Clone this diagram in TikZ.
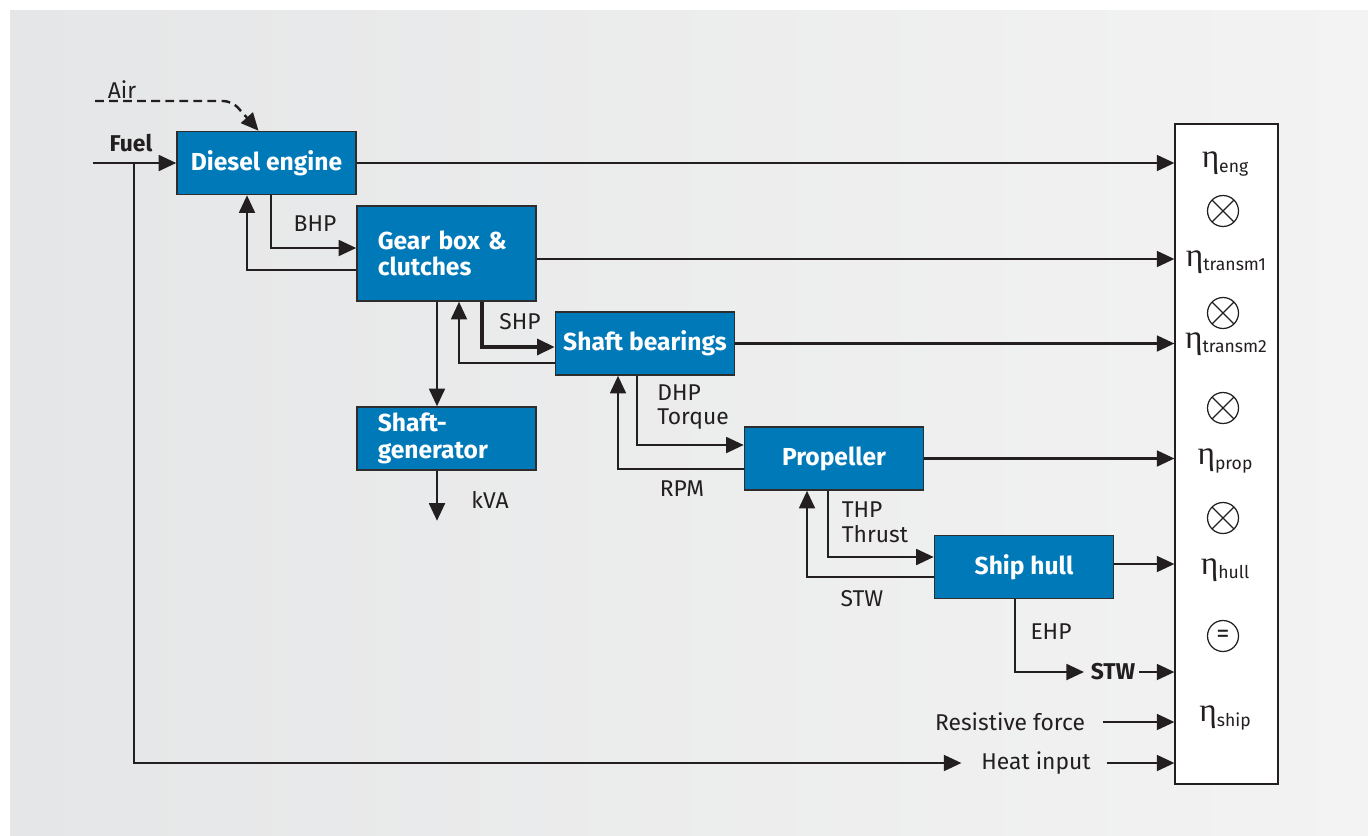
\documentclass[tikz,border=0pt]{standalone}
\usepackage{fontspec}
\setmainfont{Fira Sans}
\newfontfamily\etafont{Liberation Serif}
\usetikzlibrary{positioning, arrows.meta, calc}

\definecolor{unitblue}{RGB}{0,121,184}
\definecolor{unitline}{RGB}{45,45,45}
\definecolor{ink}{RGB}{35,31,32}
\definecolor{bgleft}{RGB}{229,230,231}
\definecolor{bgright}{RGB}{243,243,243}

\tikzset{
  unit/.style={draw=unitline, line width=0.9pt, fill=unitblue, text=white,
    font=\bfseries\fontsize{14}{14.5}\selectfont, minimum width=3.58cm, minimum height=1.26cm},
  lbl/.style={text=ink, font=\fontsize{13}{14}\selectfont, inner sep=2pt},
  flow/.style={draw=ink, line width=1.4pt, -{Triangle[length=10pt,width=9pt]}},
  eff/.style={text=ink, inner sep=1pt},
  xcirc/.style={circle, draw=ink, line width=0.7pt, minimum size=0.62cm, inner sep=0pt,
    path picture={\draw[ink, line width=0.7pt] (path picture bounding box.north east) -- (path picture bounding box.south west)
      (path picture bounding box.north west) -- (path picture bounding box.south east);}},
  eqcirc/.style={circle, draw=ink, line width=0.7pt, minimum size=0.62cm, inner sep=0pt, text=ink,
    font=\fontsize{15}{15}\selectfont}
}
\newcommand{\etasub}[1]{{\etafont\fontsize{19}{19}\selectfont\symbol{"03B7}}{\fontsize{10}{10}\selectfont\raisebox{-0.45ex}{#1}}}

\begin{document}
\begin{tikzpicture}[x=0.02cm, y=-0.02cm]
    % background panel
    \fill[white] (0,0) rectangle (1368,835);
    \shade[left color=bgleft, right color=bgright] (10,10) rectangle (1368,835);

    % power chain units
    \node[unit] (diesel) at (266.5,163) {Diesel engine};
    \node[unit, minimum height=1.9cm, text width=2.75cm, align=left, font=\bfseries\fontsize{14}{15}\selectfont] (gear) at (446.5,253.5) {Gear box \&\\clutches};
    \node[unit] (bearings) at (645,343.5) {Shaft bearings};
    \node[unit, text width=2.75cm, align=left, font=\bfseries\fontsize{14}{15}\selectfont] (gen) at (446.5,438.5) {Shaft-\\generator};
    \node[unit] (prop) at (834,458.5) {Propeller};
    \node[unit] (hull) at (1024,567) {Ship hull};

    % efficiency column
    \node[draw=ink, line width=0.7pt, fill=white, minimum width=2.06cm, minimum height=13.2cm] (effbox) at (1226.5,454) {};
    \node[eff] (etaeng) at (1225,164) {\etasub{eng}};
    \node[xcirc] (x1) at (1223,211) {};
    \node[eff] (etatr1) at (1226,262) {\etasub{transm1}};
    \node[xcirc] (x2) at (1223,313) {};
    \node[eff] (etatr2) at (1226,344) {\etasub{transm2}};
    \node[xcirc] (x3) at (1223,408) {};
    \node[eff] (etaprop) at (1225,461) {\etasub{prop}};
    \node[xcirc] (x4) at (1223,518) {};
    \node[eff] (etahull) at (1225,570) {\etasub{hull}};
    \node[eqcirc] (eq) at (1223,636) {=};
    \node[eff] (etaship) at (1225,718) {\etasub{ship}};

    % labels
    \node[lbl, font=\bfseries\fontsize{13}{14}\selectfont] (fuel) at (131,143) {Fuel};
    \node[lbl] (air) at (122,90) {Air};
    \node[lbl] (bhp) at (315,224) {BHP};
    \node[lbl] (shp) at (520,322) {SHP};
    \node[lbl] (kva) at (490,500) {kVA};
    \node[lbl, align=left] (dhp) at (693,407) {DHP\\Torque};
    \node[lbl] (rpm) at (682,489) {RPM};
    \node[lbl, align=left] (thp) at (875,522) {THP\\Thrust};
    \node[lbl] (stwfb) at (862,599) {STW};
    \node[lbl] (ehp) at (1051,632) {EHP};
    \node[lbl, font=\bfseries\fontsize{13}{14}\selectfont] (stw) at (1113,672) {STW};
    \node[lbl] (resist) at (1010,722) {Resistive force};
    \node[lbl] (heat) at (1036,763) {Heat input};

    % free ends
    \coordinate (fuelin) at (93,163);
    \coordinate (fueltap) at (134,163);
    \coordinate (airin) at (95,101);
    \coordinate (airbend) at (232,101);

    % inputs
    \draw[flow] (fuelin) -- (diesel.west);
    \draw[flow] (fueltap) |- ($(heat.west)+(-16,0)$);
    \draw[flow, dash pattern=on 5pt off 3pt, rounded corners=5pt] (airin) -- (airbend) -- ($(diesel.north)+(-8,0)$);

    % forward power flow
    \draw[flow] ($(diesel.south)+(4.5,0)$) |- ($(gear.west)+(0,-5.5)$);
    \draw[flow, line width=2pt] ($(gear.south)+(35.5,0)$) |- ($(bearings.west)+(0,3.5)$);
    \draw[flow] ($(bearings.south)+(-8,0)$) |- ($(prop.west)+(0,-13.5)$);
    \draw[flow] ($(prop.south)+(-6,0)$) |- ($(hull.west)+(0,-10)$);
    \draw[flow] ($(gear.south)+(-9.5,0)$) -- ($(gen.north)+(-9.5,0)$);
    \draw[flow] ($(gen.south)+(-9.5,0)$) -- ++(0,50) coordinate (kvaend);
    \draw[flow] ($(hull.south)+(-9,0)$) |- ($(stw.west)+(-3,0)$);

    % feedback
    \draw[flow] ($(gear.west)+(0,16.5)$) -| ($(diesel.south)+(-19.5,0)$);
    \draw[flow] ($(bearings.west)+(0,19.5)$) -| ($(gear.south)+(12.5,0)$);
    \draw[flow] ($(prop.west)+(0,10.5)$) -| ($(bearings.south)+(-27,0)$);
    \draw[flow] ($(hull.west)+(0,10)$) -| ($(prop.south)+(-27,0)$);

    % into efficiency column
    \draw[flow] (diesel.east) -- (diesel.east -| effbox.west);
    \draw[flow] ($(gear.east)+(0,5.5)$) coordinate (g1) -- (g1 -| effbox.west);
    \draw[flow] (bearings.east) -- (bearings.east -| effbox.west);
    \draw[flow] (prop.east) -- (prop.east -| effbox.west);
    \draw[flow] ($(hull.east)+(0,-3)$) coordinate (h1) -- (h1 -| effbox.west);
    \draw[flow] (stw.east) -- (stw.east -| effbox.west);
    \draw[flow] ($(resist.east)+(14,0)$) coordinate (r1) -- (r1 -| effbox.west);
    \draw[flow] ($(heat.east)+(12,0)$) coordinate (t1) -- (t1 -| effbox.west);
\end{tikzpicture}
\end{document}
